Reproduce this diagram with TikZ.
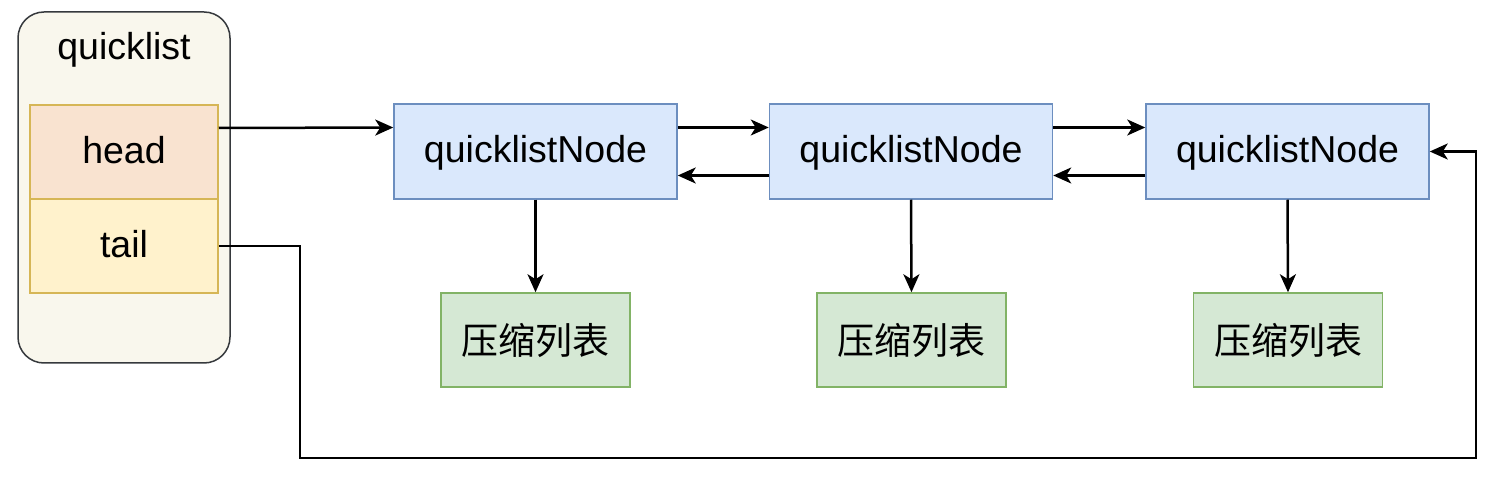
\documentclass[tikz,border=0pt]{standalone}
\usepackage{fontspec}
\setmainfont{Liberation Sans}
\newfontfamily\cjk{Noto Sans CJK SC}
\usetikzlibrary{arrows.meta}
\definecolor{outerfill}{HTML}{F9F7ED}
\definecolor{outerdraw}{HTML}{36393D}
\definecolor{headfill}{HTML}{F9E3D0}
\definecolor{tailfill}{HTML}{FFF2CC}
\definecolor{ydraw}{HTML}{D6B656}
\definecolor{bfill}{HTML}{DAE8FC}
\definecolor{bdraw}{HTML}{6C8EBF}
\definecolor{gfill}{HTML}{D5E8D4}
\definecolor{gdraw}{HTML}{82B366}
\tikzset{
  lbl/.style={font=\fontsize{37.5}{40}\selectfont, text height=23pt, text depth=0pt},
  field/.style={lbl, draw=ydraw, line width=1.5pt, minimum width=188pt, minimum height=94pt, inner sep=0pt},
  qnode/.style={lbl, draw=bdraw, fill=bfill, line width=1.5pt, minimum width=283pt, minimum height=95pt, inner sep=0pt},
  znode/.style={draw=gdraw, fill=gfill, line width=1.5pt, minimum width=189pt, minimum height=94pt, font=\cjk\fontsize{37}{40}\selectfont, inner sep=0pt},
  conn/.style={line width=2.5pt, -{Stealth[length=18pt,width=16pt,inset=5pt]}}
}
\begin{document}
\begin{tikzpicture}[x=1pt,y=-1pt]
\useasboundingbox[fill=white] (0,0) rectangle (1500,486);
\node[draw=outerdraw, fill=outerfill, line width=1.5pt, rounded corners=26pt, minimum width=212pt, minimum height=351pt, inner sep=0pt] (outer) at (124,187.5) {};
\node[lbl, inner sep=0pt] (ql) at (124,48) {quicklist};
\node[field, fill=headfill] (head) at (124,152) {head};
\node[field, fill=tailfill] (tail) at (124,246) {tail};
\node[qnode] (n1) at (535.5,151.5) {quicklistNode};
\node[qnode] (n2) at (911,151.5) {quicklistNode};
\node[qnode] (n3) at (1287.5,151.5) {quicklistNode};
\node[znode] (z1) at (535.5,340) {压缩列表};
\node[znode] (z2) at (911.5,340) {压缩列表};
\node[znode] (z3) at (1288,340) {压缩列表};
\draw[conn] ([yshift=24pt]head.east) -- ([yshift=24pt]n1.west);
\draw[conn] ([yshift=24pt]n1.east) -- ([yshift=24pt]n2.west);
\draw[conn] ([yshift=24pt]n2.east) -- ([yshift=24pt]n3.west);
\draw[conn] ([yshift=-24pt]n2.west) -- ([yshift=-24pt]n1.east);
\draw[conn] ([yshift=-24pt]n3.west) -- ([yshift=-24pt]n2.east);
\draw[conn] (n1.south) -- (z1.north);
\draw[conn] (n2.south) -- (z2.north);
\draw[conn] (n3.south) -- (z3.north);
\coordinate (t1) at (300,458);
\coordinate (t2) at (1476,458);
\draw[conn] (tail.east) -| (t1) -- (t2) |- (n3.east);
\end{tikzpicture}
\end{document}
